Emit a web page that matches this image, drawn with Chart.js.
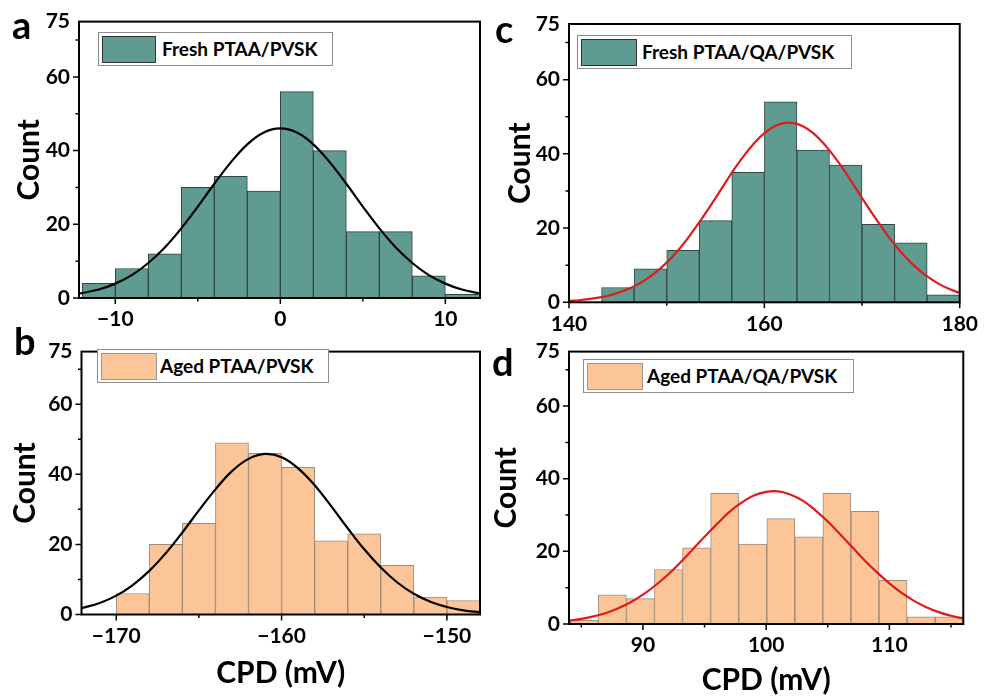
<!DOCTYPE html>
<html>
<head>
<meta charset="utf-8">
<script src="https://cdn.jsdelivr.net/npm/chart.js@4.4.1/dist/chart.umd.min.js"></script>
<style>
  body { margin: 0; background: #fff; width: 987px; height: 700px; position: relative; overflow: hidden; font-family: Lato, sans-serif; }
  canvas { position: absolute; }
  .tag { position: absolute; font-weight: bold; font-size: 38px; line-height: 38px; color: #000; }
  .legend { position: absolute; background: #fff; border: 1px solid #8c8c8c; box-sizing: border-box; }
  .legend .sw { position: absolute; box-sizing: border-box; }
  .legend .tx { position: absolute; font-weight: bold; font-size: 19px; line-height: 22px; white-space: nowrap; color: #000; }
</style>
</head>
<body>
<canvas id="chartA" width="490" height="335" style="left:0;top:0"></canvas>
<canvas id="chartB" width="490" height="370" style="left:0;top:330px"></canvas>
<canvas id="chartC" width="497" height="335" style="left:490px;top:0"></canvas>
<canvas id="chartD" width="499" height="370" style="left:488px;top:330px"></canvas>

<div class="tag" style="left:12px;top:5px">a</div>
<div class="tag" style="left:14px;top:321px">b</div>
<div class="tag" style="left:495px;top:9px">c</div>
<div class="tag" style="left:492px;top:342px">d</div>

<div id="legA" class="legend" style="left:98px;top:32px;width:235px;height:34px"></div>
<div id="legB" class="legend" style="left:97px;top:349px;width:232px;height:34px"></div>
<div id="legC" class="legend" style="left:577px;top:35px;width:275px;height:34px"></div>
<div id="legD" class="legend" style="left:583px;top:359px;width:271px;height:34px"></div>

<script>
// ---- data ----
// a: Fresh PTAA/PVSK
const centersA = [-11, -9, -7, -5, -3, -1, 1, 3, 5, 7, 9, 11];
const countsA = [4, 8, 12, 30, 33, 29, 56, 40, 18, 18, 6, 1];
const fitXA = [-12.2, -11, -10, -9, -8, -7, -6, -5, -4, -3, -2, -1, 0, 1, 2, 3, 4, 5, 6, 7, 8, 9, 10, 11, 12.1];
const fitYA = [1.2, 2.3, 3.9, 6.2, 9.5, 13.7, 18.9, 24.8, 31.0, 36.8, 41.7, 44.9, 46.0, 44.9, 41.7, 36.8, 31.0, 24.8, 18.9, 13.7, 9.5, 6.2, 3.9, 2.3, 1.25];

// b: Aged PTAA/PVSK
const centersB = [-169, -167, -165, -163, -161, -159, -157, -155, -153, -151, -149];
const countsB = [6, 20, 26, 49, 46, 42, 21, 23, 14, 5, 4];
const fitXB = [-172.1, -171, -170, -169, -168, -167, -166, -165, -164, -163, -162, -161, -160, -159, -158, -157, -156, -155, -154, -153, -152, -151, -150, -149, -148];
const fitYB = [1.8, 3.28, 5.39, 8.41, 12.45, 17.5, 23.4, 29.7, 35.7, 40.9, 44.4, 45.8, 44.85, 41.7, 36.9, 30.9, 24.6, 18.6, 13.4, 9.13, 5.91, 3.64, 2.13, 1.18, 0.62];

// c: Fresh PTAA/QA/PVSK
const centersC = [145, 148.33, 151.67, 155, 158.33, 161.67, 165, 168.33, 171.67, 175, 178.33];
const countsC = [4, 9, 14, 22, 35, 54, 41, 37, 21, 16, 2];
const fitXC = [140, 141, 142, 143, 144, 145, 146, 147, 148, 149, 150, 151, 152, 153, 154, 155, 156, 157, 158, 159, 160,
               161, 162, 163, 164, 165, 166, 167, 168, 169, 170, 171, 172, 173, 174, 175, 176, 177, 178, 179, 180];
const fitYC = [0.37, 0.56, 0.84, 1.24, 1.78, 2.53, 3.51, 4.77, 6.37, 8.35, 10.7, 13.5, 16.7, 20.3, 24.1, 28.1, 32.2, 36.2, 39.8, 43.0, 45.6,
               47.4, 48.3, 48.3, 47.4, 45.6, 43.0, 39.8, 36.2, 32.2, 28.1, 24.1, 20.3, 16.7, 13.5, 10.7, 8.35, 6.37, 4.77, 3.51, 2.53];

// d: Aged PTAA/QA/PVSK
const centersD = [85.24, 87.52, 89.80, 92.07, 94.35, 96.63, 98.91, 101.19, 103.47, 105.74, 108.02, 110.30, 112.58, 114.86];
const countsD = [1, 8, 7, 15, 21, 36, 22, 29, 24, 36, 31, 12, 2, 2];
const fitXD = [84, 85, 86, 87, 88, 89, 90, 91, 92, 93, 94, 95, 96, 97, 98, 99, 100,
               101, 102, 103, 104, 105, 106, 107, 108, 109, 110, 111, 112, 113, 114, 115, 116];
const fitYD = [0.90, 1.39, 2.09, 3.05, 4.33, 6.00, 8.09, 10.6, 13.5, 16.8, 20.4, 24.0, 27.5, 30.8, 33.4, 35.4, 36.4,
               36.5, 35.6, 33.9, 31.3, 28.2, 24.7, 21.1, 17.5, 14.2, 11.2, 8.56, 6.38, 4.64, 3.28, 2.26, 1.51];

const yLabels = [0, 20, 40, 60, 75];
const yMinor = [10, 30, 50, 70];
const yMajor = [0, 20, 40, 60];

const TEAL = '#5f9b90', TEAL_EDGE = '#2f4643';
const PEACH = '#fbc598', PEACH_EDGE = '#9e8c7a';

/*** ======== frame + outward tick marks ======== ***/
const frameTicks = {
    id: 'frameTicks',
    afterDatasetsDraw(chart, args, opts) {
        const ctx = chart.ctx, a = chart.chartArea;
        const x = chart.scales.x, y = chart.scales.y;
        ctx.save();
        ctx.strokeStyle = '#000';
        ctx.lineWidth = 1.5;
        ctx.beginPath();
        opts.xMajor.forEach(v => { const p = x.getPixelForValue(v); ctx.moveTo(p, a.bottom); ctx.lineTo(p, a.bottom + 6); });
        opts.xMinor.forEach(v => { const p = x.getPixelForValue(v); ctx.moveTo(p, a.bottom); ctx.lineTo(p, a.bottom + 3.5); });
        yMajor.forEach(v => { const p = y.getPixelForValue(v); ctx.moveTo(a.left, p); ctx.lineTo(a.left - 6, p); });
        yMinor.forEach(v => { const p = y.getPixelForValue(v); ctx.moveTo(a.left, p); ctx.lineTo(a.left - 3.5, p); });
        ctx.stroke();
        ctx.lineWidth = 2;
        ctx.strokeRect(a.left, a.top, a.right - a.left, a.bottom - a.top);
        ctx.restore();
    }
};

function fmt(v) {
    return v < 0 ? '\u2212' + Math.abs(v) : String(v);
}

function makeLegend(id, label, fill, edge, swW, textLeft) {
    const box = document.getElementById(id);
    const sw = document.createElement('div');
    sw.className = 'sw';
    sw.style.cssText = `left:3px;top:3px;width:${swW}px;height:27px;background:${fill};border:1px solid ${edge};`;
    const tx = document.createElement('div');
    tx.className = 'tx';
    tx.style.cssText = `left:${textLeft}px;top:5px;`;
    tx.textContent = label;
    box.appendChild(sw);
    box.appendChild(tx);
}

function drawPanel(p) {
    const ctx = document.getElementById(p.canvas).getContext('2d');
    new Chart(ctx, {
        type: 'bar',
        data: {
            datasets: [
                {
                    type: 'line',
                    label: 'fit',
                    data: p.fitX.map((x, i) => ({ x: x, y: p.fitY[i] })),
                    borderColor: p.lineColor,
                    borderWidth: 2.2,
                    pointRadius: 0,
                    tension: 0.4,
                    fill: false,
                    order: 0
                },
                {
                    type: 'bar',
                    label: p.label,
                    data: p.centers.map((x, i) => ({ x: x, y: p.counts[i] })),
                    backgroundColor: p.fill,
                    borderColor: p.edge,
                    borderWidth: 1,
                    categoryPercentage: 1,
                    barPercentage: 1,
                    order: 1
                }
            ]
        },
        options: {
            responsive: false,
            animation: false,
            events: [],
            layout: { padding: { top: p.padTop, right: p.padRight, left: 0, bottom: 0 } },
            plugins: {
                legend: { display: false },
                tooltip: { enabled: false },
                frameTicks: { xMajor: p.xMajor, xMinor: p.xMinor }
            },
            scales: {
                x: {
                    type: 'linear',
                    min: p.xMin, max: p.xMax,
                    offset: false,
                    afterBuildTicks: s => { s.ticks = p.xMajor.map(v => ({ value: v })); },
                    afterFit: s => { s.height = p.xH; },
                    grid: { display: false, drawTicks: false },
                    border: { display: false },
                    ticks: {
                        padding: 9, color: '#000', maxRotation: 0,
                        font: { family: 'Lato', size: 21, weight: 'bold' },
                        callback: v => fmt(v)
                    },
                    title: {
                        display: p.xTitle, text: 'CPD (mV)', color: '#000',
                        font: { family: 'Lato', size: 30, weight: 'bold' },
                        padding: { top: 0, bottom: p.xTitlePad }
                    }
                },
                y: {
                    min: 0, max: 75,
                    afterBuildTicks: s => { s.ticks = yLabels.map(v => ({ value: v })); },
                    afterFit: s => { s.width = p.yW; },
                    grid: { display: false, drawTicks: false },
                    border: { display: false },
                    ticks: {
                        padding: 9, color: '#000',
                        font: { family: 'Lato', size: 21, weight: 'bold' },
                        callback: v => fmt(v)
                    },
                    title: {
                        display: true, text: 'Count', color: '#000',
                        font: { family: 'Lato', size: 30, weight: 'bold' },
                        padding: { top: p.yTitlePad, bottom: 0 }
                    }
                }
            }
        },
        plugins: [frameTicks]
    });
}

drawPanel({
    canvas: 'chartA', label: 'Fresh PTAA/PVSK', centers: centersA, counts: countsA, fitX: fitXA, fitY: fitYA,
    fill: TEAL, edge: TEAL_EDGE, lineColor: '#000',
    xMin: -12.2, xMax: 12.1, xMajor: [-10, 0, 10], xMinor: [-5, 5],
    padTop: 21, padRight: 10, yW: 79, xH: 37, xTitle: false, xTitlePad: 0, yTitlePad: 11.5
});
drawPanel({
    canvas: 'chartB', label: 'Aged PTAA/PVSK', centers: centersB, counts: countsB, fitX: fitXB, fitY: fitYB,
    fill: PEACH, edge: PEACH_EDGE, lineColor: '#000',
    xMin: -172.1, xMax: -148, xMajor: [-170, -160, -150], xMinor: [-165, -155],
    padTop: 7, padRight: 10, yW: 81.5, xH: 85.5, xTitle: true, xTitlePad: 8.5, yTitlePad: 7
});
drawPanel({
    canvas: 'chartC', label: 'Fresh PTAA/QA/PVSK', centers: centersC, counts: countsC, fitX: fitXC, fitY: fitYC,
    fill: TEAL, edge: TEAL_EDGE, lineColor: '#e01b1b',
    xMin: 140, xMax: 180, xMajor: [140, 160, 180], xMinor: [150, 170],
    padTop: 24, padRight: 23.7, yW: 79, xH: 32.7, xTitle: false, xTitlePad: 0, yTitlePad: 12
});
drawPanel({
    canvas: 'chartD', label: 'Aged PTAA/QA/PVSK', centers: centersD, counts: countsD, fitX: fitXD, fitY: fitYD,
    fill: PEACH, edge: PEACH_EDGE, lineColor: '#e01b1b',
    xMin: 84, xMax: 116, xMajor: [90, 100, 110], xMinor: [85, 95, 105, 115],
    padTop: 16, padRight: 23.7, yW: 81, xH: 76, xTitle: true, xTitlePad: 2, yTitlePad: 0.7
});

makeLegend('legA', 'Fresh PTAA/PVSK', TEAL, '#333', 54, 63);
makeLegend('legB', 'Aged PTAA/PVSK', PEACH, '#999', 56, 62);
makeLegend('legC', 'Fresh PTAA/QA/PVSK', TEAL, '#333', 56, 64);
makeLegend('legD', 'Aged PTAA/QA/PVSK', PEACH, '#999', 56, 63);
</script>
</body>
</html>
